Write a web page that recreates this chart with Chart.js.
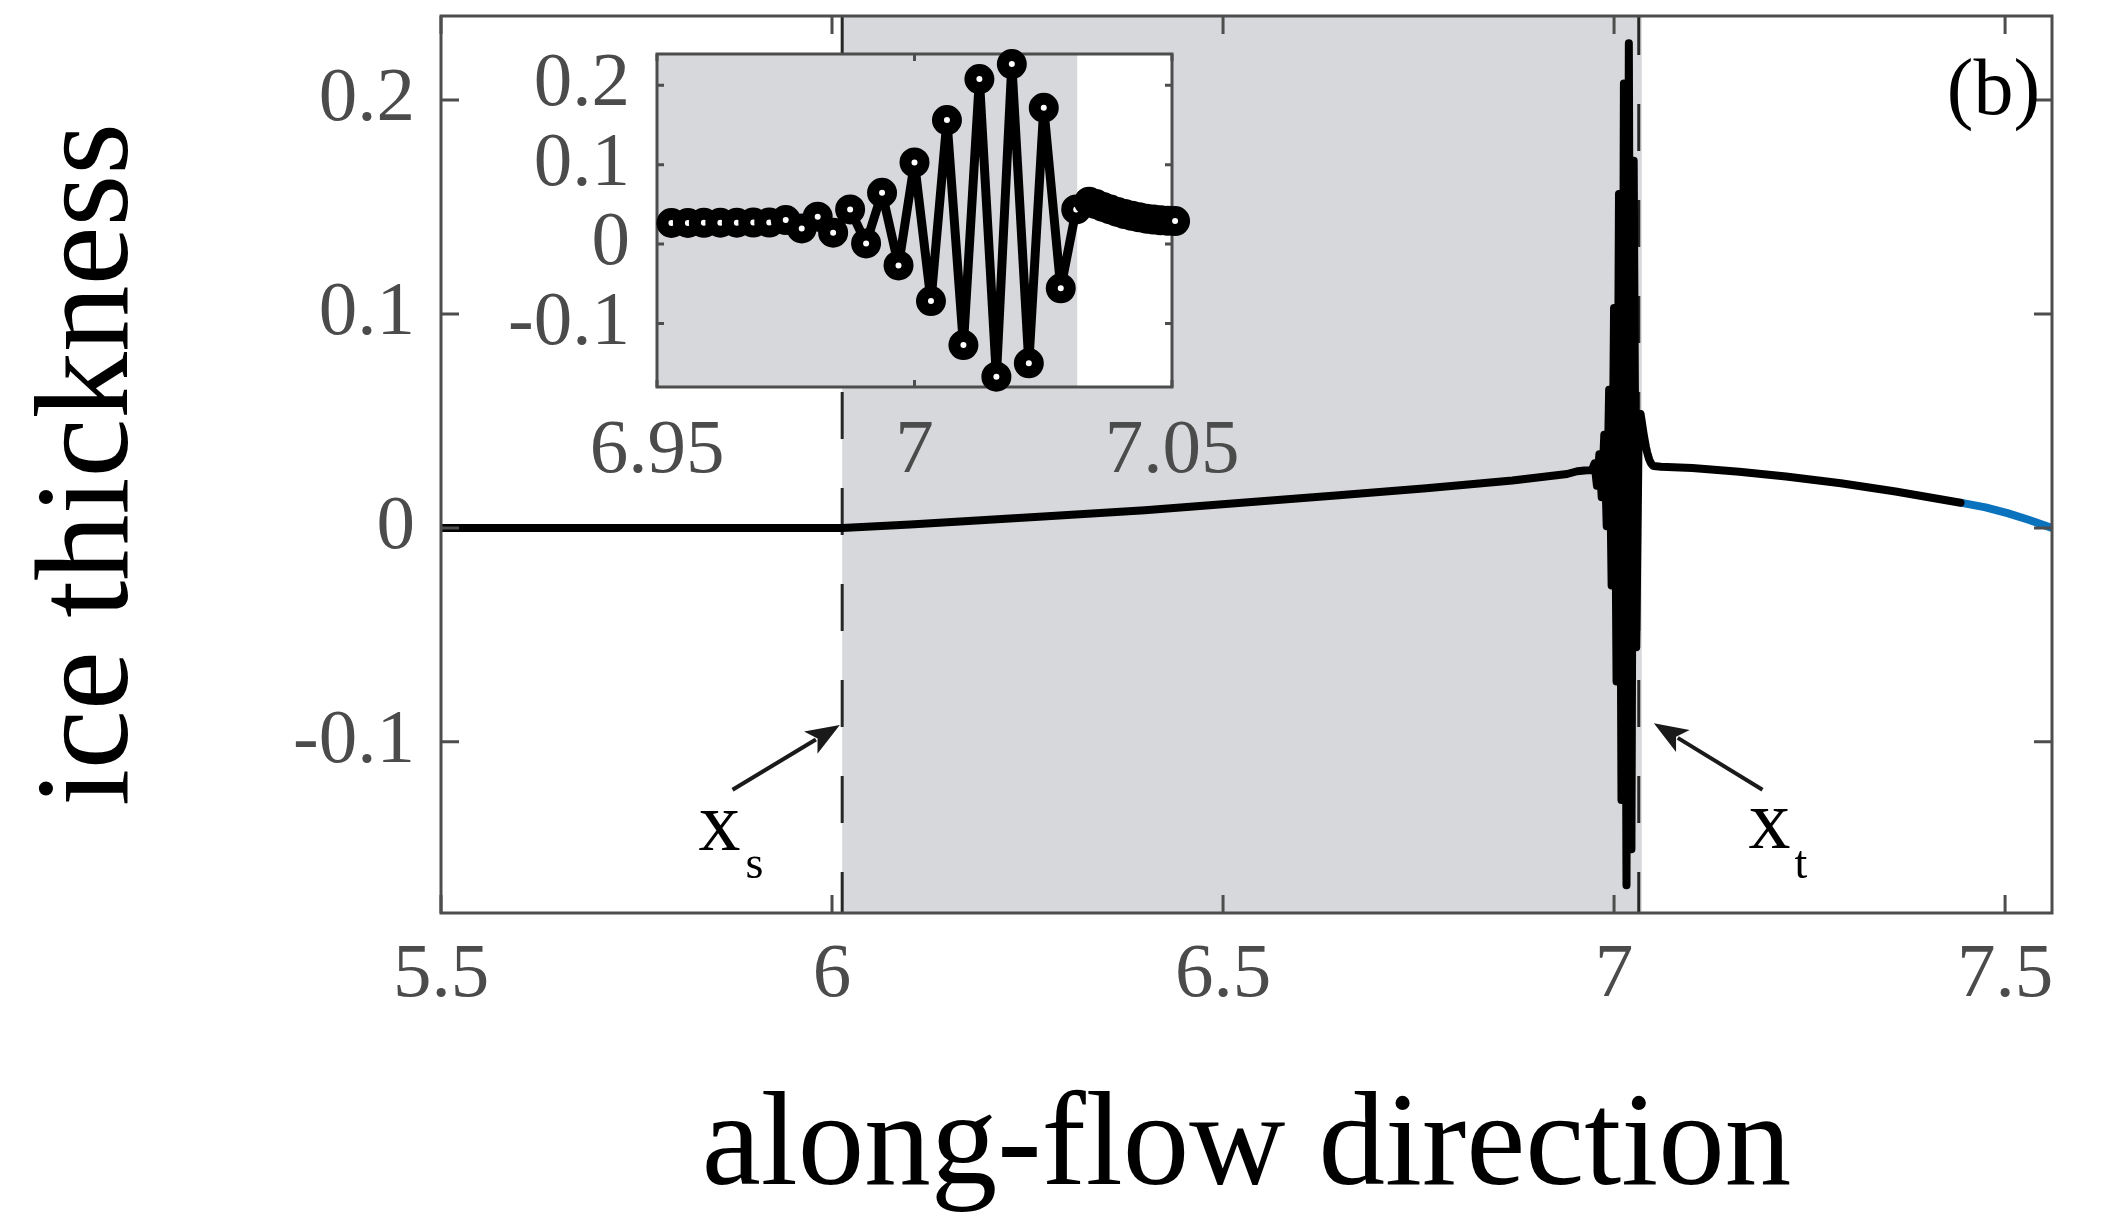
<!DOCTYPE html>
<html><head><meta charset="utf-8">
<script src="https://cdn.jsdelivr.net/npm/chart.js@4.4.1/dist/chart.umd.min.js"></script>
<style>
html,body{margin:0;padding:0;background:#fff;}
#wrap{position:relative;width:2115px;height:1223px;}
canvas{position:absolute;left:0;top:0;}
</style></head><body>
<div id="wrap"><canvas id="main" width="2115" height="1223"></canvas><canvas id="inset" width="2115" height="1223"></canvas></div>
<script>
// ---- data ----
const xLeft = [5.5, 6.013, 6.1, 6.27, 6.4, 6.52, 6.64, 6.76, 6.87, 6.94];
const yLeft = [0, 0, 0.0016, 0.0053, 0.0083, 0.0117, 0.0150, 0.0185, 0.0222, 0.0252];
const xOsc = [6.9528, 6.9560, 6.9591, 6.9623, 6.9655, 6.9687, 6.9718, 6.9750, 6.9781, 6.9812, 6.9842, 6.9875, 6.9906, 6.9937, 6.9969, 7.0000, 7.0032, 7.0063, 7.0095, 7.0126, 7.0159, 7.0189, 7.0222, 7.0251, 7.0284, 7.0314, 7.0339];
const yOsc = [0.0265, 0.0266, 0.0267, 0.0268, 0.0269, 0.0270, 0.0271, 0.0302, 0.0197, 0.0344, 0.0143, 0.0436, 0.0008, 0.0646, -0.0269, 0.1028, -0.0718, 0.1561, -0.1272, 0.2077, -0.1670, 0.2266, -0.1502, 0.1716, -0.0558, 0.0436, 0.0533];
const xFine = [7.0352, 7.0366, 7.0380, 7.0394, 7.0408, 7.0422, 7.0436, 7.0450, 7.0464, 7.0478, 7.0492, 7.0506];
const yFine = [0.0503, 0.0468, 0.0435, 0.0405, 0.0378, 0.0355, 0.0336, 0.0320, 0.0308, 0.0299, 0.0293, 0.0289];
const xRight = [7.06, 7.10, 7.16, 7.22, 7.29, 7.36, 7.443];
const yRight = [0.0286, 0.0280, 0.0263, 0.0240, 0.0209, 0.0170, 0.0118];
const xBlue = [7.443, 7.475, 7.503, 7.53, 7.56];
const yBlue = [0.0118, 0.0096, 0.0069, 0.0038, 0];

const xTicks = [5.5, 6, 6.5, 7, 7.5];
const xTickLabels = ['5.5', '6', '6.5', '7', '7.5'];
const yTicks = [-0.1, 0, 0.1, 0.2];
const yTickLabels = ['-0.1', '0', '0.1', '0.2'];
const insetXTicks = [6.95, 7, 7.05];
const insetXTickLabels = ['6.95', '7', '7.05'];
const insetYTicks = [-0.1, 0, 0.1, 0.2];
const insetYTickLabels = ['-0.1', '0', '0.1', '0.2'];

const xS = 6.013, xT = 7.0316;

// ---- styling ----
const FONT = '"Liberation Serif", "Times New Roman", serif';
const TICKC = '#4b4b4b';
const AXC = '#4d4d4d';
const SHADE = '#d7d8db';

const pts = (xs, ys) => xs.map((x, i) => ({x, y: ys[i]}));
const blackX = [].concat(xLeft, xOsc, xFine, xRight);
const blackY = [].concat(yLeft, yOsc, yFine, yRight);

const noPadX = h => s => { s.height = h; s.paddingLeft = 0; s.paddingRight = 0; s.paddingTop = 0; s.paddingBottom = 0; };
const noPadY = w => s => { s.width = w; s.paddingLeft = 0; s.paddingRight = 0; s.paddingTop = 0; s.paddingBottom = 0; };

function drawArrow(ctx, x0, y0, x1, y1) {
  const ang = Math.atan2(y1 - y0, x1 - x0);
  const L = 34, W = 13;
  const bx = x1 - L * Math.cos(ang), by = y1 - L * Math.sin(ang);
  ctx.beginPath(); ctx.moveTo(x0, y0); ctx.lineTo(bx + 6 * Math.cos(ang), by + 6 * Math.sin(ang)); ctx.stroke();
  ctx.beginPath();
  ctx.moveTo(x1, y1);
  ctx.lineTo(bx + W * Math.sin(ang), by - W * Math.cos(ang));
  ctx.lineTo(bx + 8 * Math.cos(ang), by + 8 * Math.sin(ang));
  ctx.lineTo(bx - W * Math.sin(ang), by + W * Math.cos(ang));
  ctx.closePath(); ctx.fill();
}

const mainDeco = {
  id: 'mainDeco',
  beforeDatasetsDraw(chart) {
    const {ctx, chartArea: a, scales: {x}} = chart;
    ctx.save();
    ctx.fillStyle = SHADE;
    const x0 = x.getPixelForValue(xS), x1 = x.getPixelForValue(xT) + 3;
    ctx.fillRect(x0, a.top, x1 - x0, a.bottom - a.top);
    ctx.strokeStyle = '#262626'; ctx.lineWidth = 3;
    ctx.setLineDash([47, 49]); ctx.lineDashOffset = 8;
    for (const v of [xS, xT]) {
      const px = x.getPixelForValue(v);
      ctx.beginPath(); ctx.moveTo(px, a.top); ctx.lineTo(px, a.bottom); ctx.stroke();
    }
    ctx.restore();
  },
  afterDatasetsDraw(chart) {
    const {ctx, chartArea: a, scales: {x, y}} = chart;
    ctx.save();
    ctx.strokeStyle = AXC; ctx.lineWidth = 3;
    ctx.strokeRect(a.left, a.top, a.right - a.left, a.bottom - a.top);
    const tl = 18;
    ctx.beginPath();
    for (const v of xTicks) {
      const px = x.getPixelForValue(v);
      ctx.moveTo(px, a.bottom); ctx.lineTo(px, a.bottom - tl);
      ctx.moveTo(px, a.top); ctx.lineTo(px, a.top + tl);
    }
    for (const v of yTicks) {
      const py = y.getPixelForValue(v);
      ctx.moveTo(a.left, py); ctx.lineTo(a.left + tl, py);
      ctx.moveTo(a.right, py); ctx.lineTo(a.right - tl, py);
    }
    ctx.stroke();
    // arrows
    ctx.strokeStyle = '#1a1a1a'; ctx.fillStyle = '#1a1a1a'; ctx.lineWidth = 4;
    drawArrow(ctx, x.getPixelForValue(5.8728), y.getPixelForValue(-0.1224), x.getPixelForValue(6.0100), y.getPixelForValue(-0.0921));
    drawArrow(ctx, x.getPixelForValue(7.1898), y.getPixelForValue(-0.1224), x.getPixelForValue(7.0509), y.getPixelForValue(-0.0913));
    // labels
    ctx.fillStyle = '#000'; ctx.textBaseline = 'alphabetic'; ctx.textAlign = 'left';
    const sx = x.getPixelForValue(5.8293), sy = y.getPixelForValue(-0.1505);
    ctx.font = '84px ' + FONT; ctx.fillText('x', sx, sy);
    ctx.font = '46px ' + FONT; ctx.fillText('s', sx + 47, sy + 28);
    const tx = x.getPixelForValue(7.172), ty = y.getPixelForValue(-0.1495);
    ctx.font = '84px ' + FONT; ctx.fillText('x', tx, ty);
    ctx.font = '46px ' + FONT; ctx.fillText('t', tx + 46, ty + 30);
    ctx.textAlign = 'right'; ctx.font = '80px ' + FONT;
    ctx.fillText('(b)', x.getPixelForValue(7.5448), y.getPixelForValue(0.1935));
    ctx.restore();
  }
};

new Chart(document.getElementById('main'), {
  type: 'scatter',
  data: {
    datasets: [
      {data: pts(blackX, blackY), showLine: true, borderColor: '#000', borderWidth: 8, pointRadius: 0, tension: 0, borderJoinStyle: 'round', borderCapStyle: 'round'},
      {data: pts(xBlue, yBlue), showLine: true, borderColor: '#0b72bd', borderWidth: 8, pointRadius: 0, tension: 0, borderJoinStyle: 'round'}
    ]
  },
  options: {
    responsive: false, animation: false, devicePixelRatio: 1,
    layout: {padding: {left: 0, right: 63, top: 16, bottom: 0}},
    plugins: {legend: {display: false}, tooltip: {enabled: false}},
    scales: {
      x: {
        type: 'linear', position: 'bottom', min: 5.5, max: 7.56, bounds: 'data',
        afterBuildTicks: s => { s.ticks = xTicks.map(v => ({value: v})); },
        afterFit: noPadX(310),
        grid: {display: false, drawTicks: false}, border: {display: false},
        ticks: {font: {family: FONT, size: 77, lineHeight: 1}, color: TICKC, padding: 24.5, maxRotation: 0, autoSkip: false,
          callback: (v, i) => xTickLabels[i]},
        title: {display: true, text: 'along-flow direction', color: '#000',
          font: {family: FONT, size: 133, lineHeight: 1}, padding: {top: 0, bottom: 7.5}}
      },
      y: {
        type: 'linear', position: 'left', min: -0.18, max: 0.2393, bounds: 'data',
        afterBuildTicks: s => { s.ticks = yTicks.map(v => ({value: v})); },
        afterFit: noPadY(441),
        grid: {display: false, drawTicks: false}, border: {display: false},
        ticks: {font: {family: FONT, size: 77, lineHeight: 1}, color: TICKC, padding: 26, autoSkip: false,
          callback: (v, i) => yTickLabels[i]},
        title: {display: true, text: 'ice thickness', color: '#000',
          font: {family: FONT, size: 133, lineHeight: 1}, padding: {top: 25.5, bottom: 0}}
      }
    }
  },
  plugins: [mainDeco]
});

// ---- inset ----
const insetIdx = blackX.map((v, i) => i).filter(i => blackX[i] >= 6.95 && blackX[i] <= 7.051);
const insetX = insetIdx.map(i => blackX[i]);
const insetY = insetIdx.map(i => blackY[i]);

const insetDeco = {
  id: 'insetDeco',
  beforeDatasetsDraw(chart) {
    const {ctx, chartArea: a, scales: {x, y}} = chart;
    ctx.save();
    ctx.fillStyle = '#fff';
    ctx.fillRect(a.left, a.top, a.right - a.left, a.bottom - a.top);
    ctx.fillStyle = SHADE;
    const gx = x.getPixelForValue(xT);
    ctx.fillRect(a.left, a.top, gx - a.left, a.bottom - a.top);
    ctx.strokeStyle = AXC; ctx.lineWidth = 3;
    ctx.strokeRect(a.left, a.top, a.right - a.left, a.bottom - a.top);
    const tl = 7;
    ctx.beginPath();
    for (const v of insetXTicks) {
      const px = x.getPixelForValue(v);
      ctx.moveTo(px, a.bottom); ctx.lineTo(px, a.bottom - tl);
      ctx.moveTo(px, a.top); ctx.lineTo(px, a.top + tl);
    }
    for (const v of insetYTicks) {
      const py = y.getPixelForValue(v);
      ctx.moveTo(a.left, py); ctx.lineTo(a.left + tl, py);
      ctx.moveTo(a.right, py); ctx.lineTo(a.right - tl, py);
    }
    ctx.stroke();
    ctx.restore();
  }
};

new Chart(document.getElementById('inset'), {
  type: 'scatter',
  data: {
    datasets: [
      {data: pts(insetX, insetY), showLine: true, borderColor: '#000', borderWidth: 9, tension: 0,
       borderJoinStyle: 'round', clip: false,
       pointRadius: 9, pointBorderWidth: 12, pointBorderColor: '#000', pointBackgroundColor: '#fff'}
    ]
  },
  options: {
    responsive: false, animation: false, devicePixelRatio: 1,
    layout: {padding: {left: 0, right: 943, top: 54, bottom: 0}},
    plugins: {legend: {display: false}, tooltip: {enabled: false}},
    scales: {
      x: {
        type: 'linear', position: 'bottom', min: 6.95, max: 7.05, bounds: 'data',
        afterBuildTicks: s => { s.ticks = insetXTicks.map(v => ({value: v})); },
        afterFit: noPadX(836),
        grid: {display: false, drawTicks: false}, border: {display: false},
        ticks: {font: {family: FONT, size: 77, lineHeight: 1}, color: TICKC, padding: 26, maxRotation: 0, autoSkip: false,
          callback: (v, i) => insetXTickLabels[i]}
      },
      y: {
        type: 'linear', position: 'left', min: -0.18, max: 0.2393, bounds: 'data',
        afterBuildTicks: s => { s.ticks = insetYTicks.map(v => ({value: v})); },
        afterFit: noPadY(657),
        grid: {display: false, drawTicks: false}, border: {display: false},
        ticks: {font: {family: FONT, size: 77, lineHeight: 1}, color: TICKC, padding: 27, autoSkip: false,
          callback: (v, i) => insetYTickLabels[i]}
      }
    }
  },
  plugins: [insetDeco]
});
</script>
</body></html>
